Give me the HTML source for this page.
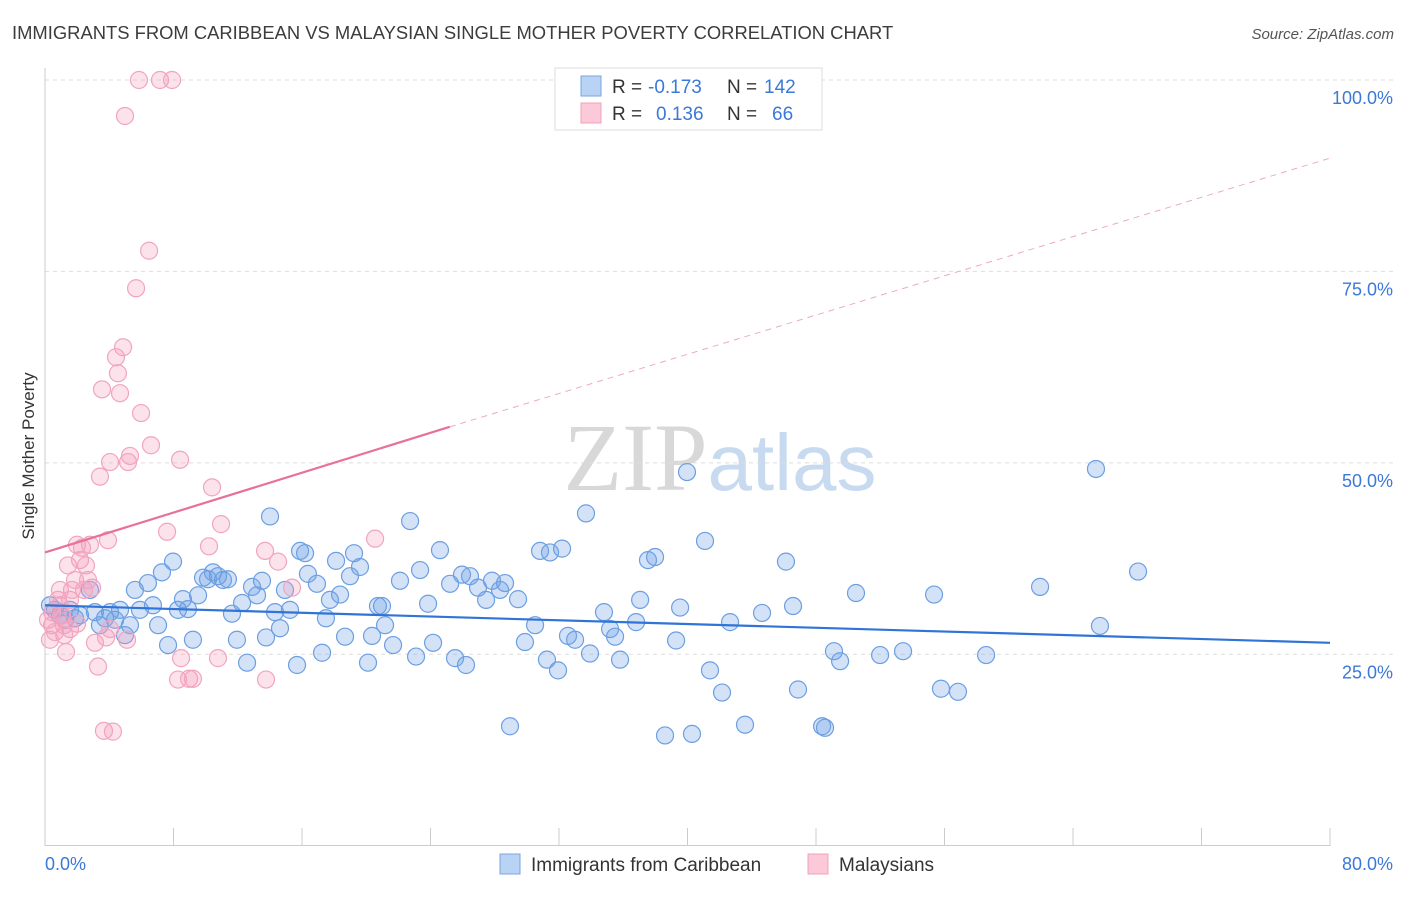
<!DOCTYPE html>
<html><head><meta charset="utf-8"><style>
body{margin:0;background:#fff;width:1406px;height:892px;overflow:hidden;font-family:"Liberation Sans",sans-serif}
</style></head><body>
<svg id="chart" width="1406" height="892" xmlns="http://www.w3.org/2000/svg" font-family="Liberation Sans, sans-serif">
<text x="12" y="39" font-size="18.4" fill="#3c3c3c">IMMIGRANTS FROM CARIBBEAN VS MALAYSIAN SINGLE MOTHER POVERTY CORRELATION CHART</text>
<text x="1394" y="39" font-size="15" fill="#555" font-style="italic" text-anchor="end">Source: ZipAtlas.com</text>
<text x="720" y="490" font-size="96" text-anchor="middle"><tspan fill="#d8d8d8" font-family="Liberation Serif, serif">ZIP</tspan><tspan fill="#c8daf0" font-size="80">atlas</tspan></text>
<text transform="translate(34,456) rotate(-90)" font-size="17" fill="#333" text-anchor="middle">Single Mother Poverty</text>
<g id="grid"></g><g id="ticks"></g><g id="pts"></g><g id="trends"></g>
<g>
<rect x="555" y="68" width="267" height="62" fill="#fff" stroke="#ddd"/>
<rect x="581" y="76" width="20" height="20" fill="#b9d3f5" stroke="#7aa6e0"/>
<rect x="581" y="103" width="20" height="20" fill="#fbc9d8" stroke="#f0a0bc"/>
<text x="612" y="93" font-size="19" fill="#333">R =</text>
<text x="648" y="93" font-size="19" fill="#3b78d8">-0.173</text>
<text x="727" y="93" font-size="19" fill="#333">N =</text>
<text x="764" y="93" font-size="19" fill="#3b78d8">142</text>
<text x="612" y="120" font-size="19" fill="#333">R =</text>
<text x="656" y="120" font-size="19" fill="#3b78d8">0.136</text>
<text x="727" y="120" font-size="19" fill="#333">N =</text>
<text x="772" y="120" font-size="19" fill="#3b78d8">66</text>
</g>
<g>
<rect x="500" y="854" width="20" height="20" fill="#b9d3f5" stroke="#7aa6e0"/>
<text x="531" y="871" font-size="19" fill="#333">Immigrants from Caribbean</text>
<rect x="808" y="854" width="20" height="20" fill="#fbc9d8" stroke="#f0a0bc"/>
<text x="839" y="871" font-size="19" fill="#333">Malaysians</text>
</g>
<text x="45" y="870" font-size="18" fill="#3b78d8">0.0%</text>
<text x="1393" y="870" font-size="18" fill="#3b78d8" text-anchor="end">80.0%</text>
</svg>
<script>
const blueX=[0.31,0.62,0.93,1.25,1.56,1.87,2.18,2.80,3.11,3.42,3.74,4.05,4.36,4.67,4.98,5.29,5.60,5.91,6.41,6.72,7.04,7.28,7.66,7.97,8.28,8.59,8.90,9.21,9.53,9.84,10.15,10.46,10.77,11.08,11.39,11.64,11.95,12.27,12.58,12.89,13.20,13.51,13.76,14.01,14.32,14.63,14.94,15.25,15.69,15.88,16.19,16.37,16.93,17.25,17.49,17.74,18.12,18.37,18.68,18.99,19.24,19.61,20.11,20.36,20.73,20.98,21.17,21.67,22.10,22.73,23.10,23.35,23.85,24.16,24.59,25.22,25.53,25.96,26.21,26.46,26.96,27.46,27.83,28.33,28.64,28.95,29.45,29.88,30.51,30.82,31.25,31.44,31.94,32.19,32.56,33.00,33.68,33.93,34.80,35.18,35.49,35.80,36.80,37.05,37.54,37.98,38.60,39.29,39.54,39.97,40.28,41.09,41.40,42.15,42.65,43.58,44.64,46.13,46.57,46.88,48.38,48.56,49.12,49.50,50.49,51.99,53.42,55.35,55.78,56.84,58.59,61.95,65.43,65.68,68.05];
const blueY=[31.4,30.8,30.1,29.5,30.8,29.7,30.1,33.4,30.5,28.8,29.7,30.5,29.5,30.8,27.5,28.8,33.4,30.8,34.3,31.4,28.8,35.7,26.2,37.1,30.8,32.2,30.9,26.9,32.7,35.0,34.8,35.7,35.2,34.7,34.8,30.3,26.9,31.7,23.9,33.8,32.7,34.6,27.2,43.0,30.5,28.4,33.4,30.8,23.6,38.5,38.2,35.5,34.2,25.2,29.7,32.1,37.2,32.8,27.3,35.2,38.2,36.4,23.9,27.4,31.3,31.3,28.8,26.2,34.6,42.4,24.7,36.0,31.6,26.5,38.6,34.2,24.5,35.4,23.6,35.2,33.7,32.1,34.6,33.4,34.3,15.6,32.2,26.6,28.8,38.5,24.3,38.3,22.9,38.8,27.4,26.9,43.4,25.1,30.5,28.3,27.3,24.3,29.2,32.1,37.3,37.7,14.4,26.8,31.1,48.8,14.6,39.8,22.9,20.0,29.2,15.8,30.4,37.1,31.3,20.4,15.6,15.4,25.4,24.1,33.0,24.9,25.4,32.8,20.5,20.1,24.9,33.8,49.2,28.7,35.8];
const pinkX=[0.19,0.31,0.44,0.62,0.81,0.93,1.06,1.18,1.31,1.43,1.56,1.68,1.87,1.99,2.18,2.30,2.43,2.55,2.68,2.80,2.93,3.11,3.30,3.42,3.55,3.67,3.80,3.92,4.05,4.23,4.42,4.54,4.67,4.86,4.98,5.11,5.17,5.29,5.67,5.85,5.98,6.48,6.60,7.16,7.60,7.91,8.28,8.41,8.47,8.97,9.21,10.21,10.40,10.77,10.96,13.70,13.76,14.51,15.38,20.55,0.93,1.56,4.05,0.44,2.0,1.2];
const pinkY=[29.5,26.9,28.8,27.9,32.1,31.4,30.1,28.8,25.3,36.6,32.1,33.4,34.7,39.3,37.3,38.9,33.4,36.6,34.7,39.3,33.7,26.5,23.4,48.2,59.6,15.0,27.2,39.9,50.1,14.9,63.8,61.7,59.1,65.1,95.3,26.9,50.1,50.9,72.8,100,56.5,77.7,52.3,100,41.0,100,21.7,50.4,24.5,21.8,21.8,39.1,46.8,24.5,42.0,38.5,21.7,37.1,33.7,40.1,33.4,28.3,28.3,30.5,29.0,27.5];
const yTicks=[25,50,75,100];
const xTickVals=[0,8,16,24,32,40,48,56,64,72,80];
const blueTrend=[31.4,26.5]; // at x=0 and x=80
const pinkTrend=[38.3,54.7,89.8]; // at x=0, x=25.2, x=80
const X=v=>45+v/80*1285, Y=v=>845.7-v/100*765.7;
const NS="http://www.w3.org/2000/svg";
function mk(tag,attrs,parent){const e=document.createElementNS(NS,tag);for(const k in attrs)e.setAttribute(k,attrs[k]);document.getElementById(parent).appendChild(e);return e;}
yTicks.forEach(t=>{
 const l=mk('line',{x1:45,x2:1393,y1:Y(t),y2:Y(t),stroke:'#ddd','stroke-dasharray':'4,4'},'grid');
 
 
 const tx=mk('text',{x:1393,y:Y(t)+24,'font-size':18,fill:'#3b78d8','text-anchor':'end'},'grid');
 tx.textContent=t.toFixed(1)+'%';
 
 
});
const ax=mk('line',{x1:45,x2:1330,y1:845.5,y2:845.5,stroke:'#ccc'},'ticks');


const ay=mk('line',{x1:45,x2:45,y1:68,y2:845,stroke:'#ccc'},'ticks');


xTickVals.forEach(t=>{
 const l=mk('line',{x1:X(t),x2:X(t),y1:828,y2:846,stroke:'#ccc'},'ticks');
 
 
});
blueX.forEach((x,i)=>{
 const c=mk('circle',{cx:X(x),cy:Y(blueY[i]),r:8.5,fill:'rgba(110,160,230,0.3)',stroke:'#6c9fe2','stroke-width':1.2},'pts');
 
 
});
pinkX.forEach((x,i)=>{
 const c=mk('circle',{cx:X(x),cy:Y(pinkY[i]),r:8.5,fill:'rgba(245,160,190,0.3)',stroke:'#f2a4bf','stroke-width':1.2},'pts');
 
 
});
const bt=mk('line',{x1:X(0),y1:Y(blueTrend[0]),x2:X(80),y2:Y(blueTrend[1]),stroke:'#2f74d6','stroke-width':2.2},'trends');


const pt=mk('line',{x1:X(0),y1:Y(pinkTrend[0]),x2:X(25.2),y2:Y(pinkTrend[1]),stroke:'#e8709a','stroke-width':2.2},'trends');


const pd=mk('line',{x1:X(25.2),y1:Y(pinkTrend[1]),x2:X(80),y2:Y(pinkTrend[2]),stroke:'#eeaac2','stroke-width':1,'stroke-dasharray':'6,5'},'trends');


</script>
</body></html>
